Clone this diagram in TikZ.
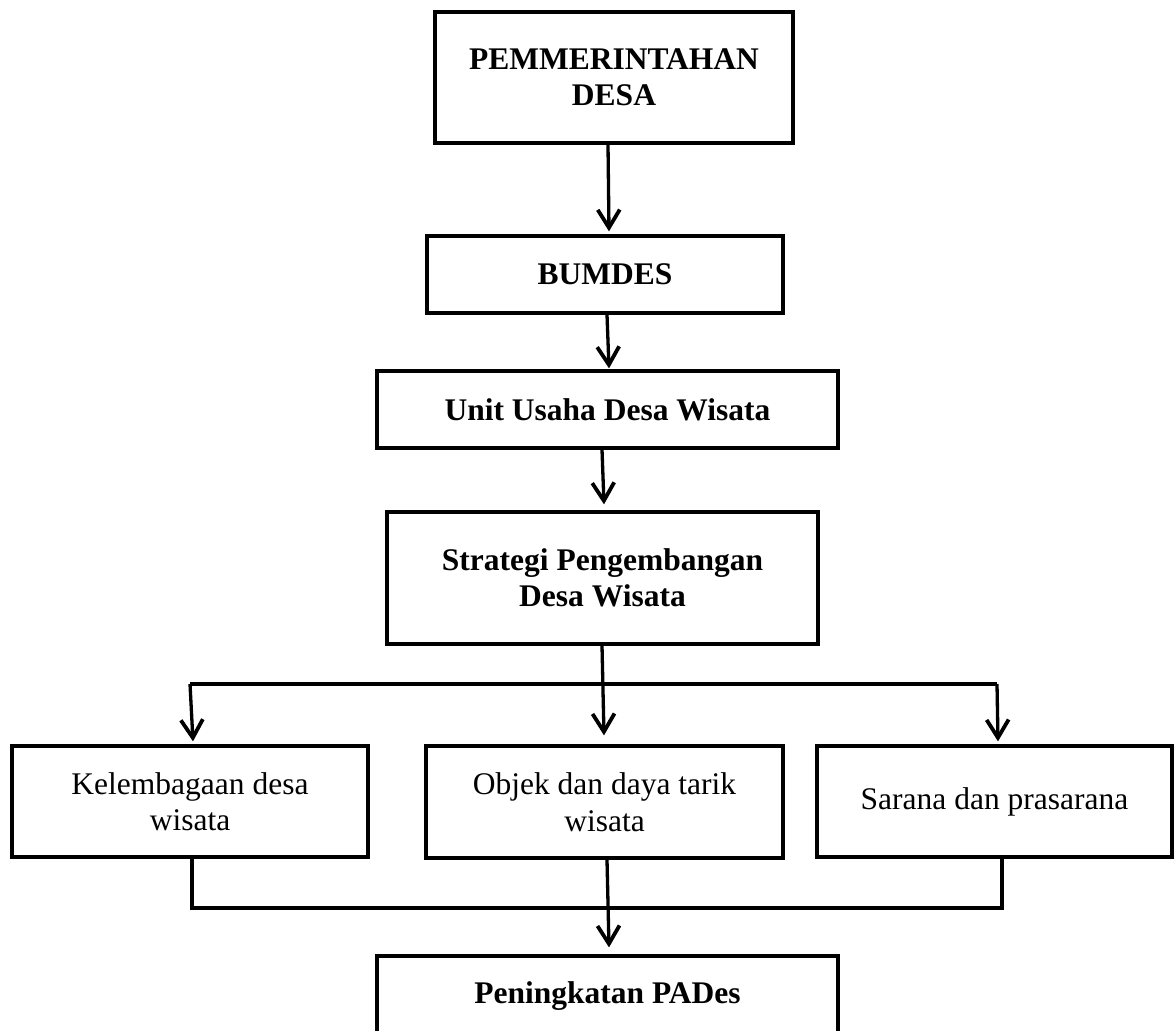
\documentclass[tikz,border=0pt]{standalone}
\usepackage{fontspec}
\setmainfont{Liberation Serif}
\usetikzlibrary{arrows.meta,calc}
\begin{document}
\begin{tikzpicture}[x=1pt,y=-1pt,
  box/.style={draw=black, line width=3.3pt, rectangle, inner sep=0pt, align=center,
    font=\fontsize{31.5}{36.5}\selectfont},
  bbox/.style={box, font=\fontsize{31.5}{36.5}\selectfont\bfseries},
  ln/.style={draw=black, line width=3.3pt, line join=miter},
  arr/.style={ln, -{Straight Barb[length=18pt,width=22pt,line width=3.8pt]}}]
\useasboundingbox (0,0) rectangle (1174,1030);
\fill[white] (0,0) rectangle (1174,1030);
\node[bbox, minimum width=358pt, minimum height=131pt] (pem) at (614,77.5) {PEMMERINTAHAN\\DESA};
\node[bbox, minimum width=356pt, minimum height=77pt] (bum) at (605,274.5) {BUMDES};
\node[bbox, minimum width=461pt, minimum height=77pt] (unit) at (607.5,409.5) {Unit Usaha Desa Wisata};
\node[bbox, minimum width=431pt, minimum height=132pt] (strat) at (602.5,578) {Strategi Pengembangan\\Desa Wisata};
\node[box, minimum width=356pt, minimum height=111pt] (kel) at (190,801.5) {Kelembagaan desa\\wisata};
\node[box, minimum width=357pt, minimum height=112pt] (obj) at (604.5,802) {Objek dan daya tarik\\wisata};
\node[box, minimum width=355pt, minimum height=111pt] (sar) at (994.5,801.5) {Sarana dan prasarana};
\node[bbox, minimum width=461pt, minimum height=80pt] (pen) at (607.5,996) {Peningkatan PADes};
\coordinate (bl) at (190,684);
\coordinate (br) at (997,684);
\coordinate (jr) at (1002,908);
\draw[arr] ([xshift=-6pt]pem.south) -- ([xshift=4pt,yshift=3pt]bum.north);
\draw[arr] ([xshift=2pt]bum.south) -- ([xshift=1.5pt,yshift=1pt]unit.north);
\draw[arr] ([xshift=-5.5pt]unit.south) -- ([xshift=1.5pt,yshift=6pt]strat.north);
\draw[ln] (bl) -- (br);
\draw[arr] ([xshift=-0.5pt]strat.south) -- ([xshift=-0.5pt,yshift=9pt]obj.north);
\draw[arr] (bl) -- ([xshift=3pt,yshift=3pt]kel.north);
\draw[arr] (br) -- ([xshift=3.5pt,yshift=3pt]sar.north);
\draw[ln] ([xshift=2pt]kel.south) |- (jr) -- (jr |- sar.south);
\draw[arr] ([xshift=2.5pt]obj.south) -- ([xshift=1.5pt,yshift=7pt]pen.north);
\end{tikzpicture}
\end{document}
